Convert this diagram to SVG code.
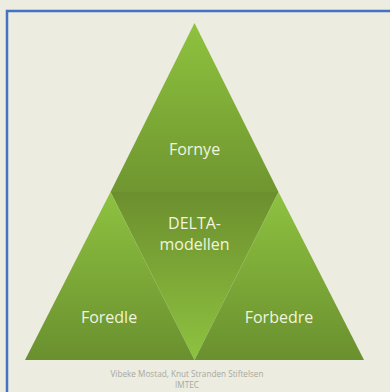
<svg xmlns="http://www.w3.org/2000/svg" width="390" height="392" viewBox="0 0 390 392">
<defs>
<linearGradient id="gTop" x1="0" y1="23" x2="0" y2="192" gradientUnits="userSpaceOnUse">
<stop offset="0" stop-color="#8EC23E"/>
<stop offset="1" stop-color="#6F9630"/>
</linearGradient>
<linearGradient id="gMid" x1="0" y1="192" x2="0" y2="360" gradientUnits="userSpaceOnUse">
<stop offset="0" stop-color="#6C8F2E"/>
<stop offset="1" stop-color="#8EC240"/>
</linearGradient>
<linearGradient id="gSide" x1="0" y1="192" x2="0" y2="360" gradientUnits="userSpaceOnUse">
<stop offset="0" stop-color="#8EC240"/>
<stop offset="1" stop-color="#6A902F"/>
</linearGradient>
<style>
.lbl{font-family:"Open Sans","Noto Sans",sans-serif;font-size:16px;font-weight:500;fill:#F0F5DE;text-anchor:middle}
.cr{font-family:"Open Sans","Noto Sans",sans-serif;font-size:8.2px;fill:#A8A8A0;text-anchor:middle}
</style>
</defs>
<rect x="0" y="0" width="390" height="392" fill="#ECECE0"/>
<path d="M7,392 V11 H390" fill="none" stroke="#4472C4" stroke-width="2.5"/>
<g id="fornye">
<polygon points="194.5,23 278.5,192 110.5,192" fill="url(#gTop)"/>
<text class="lbl" x="194.5" y="155">Fornye</text>
</g>
<g id="delta">
<polygon points="110.5,192 278.5,192 194.5,360" fill="url(#gMid)"/>
<text class="lbl" x="194.5" y="229">DELTA-</text>
<text class="lbl" x="194.5" y="250">modellen</text>
</g>
<g id="foredle">
<polygon points="110.5,192 194.5,360 25,360" fill="url(#gSide)"/>
<text class="lbl" x="109" y="323">Foredle</text>
</g>
<g id="forbedre">
<polygon points="278.5,192 364,360 194.5,360" fill="url(#gSide)"/>
<text class="lbl" x="279" y="323">Forbedre</text>
</g>
<g id="connectors"/>
<text class="cr" x="187" y="377">Vibeke Mostad, Knut Stranden Stiftelsen</text>
<text class="cr" x="187" y="388">IMTEC</text>
</svg>
